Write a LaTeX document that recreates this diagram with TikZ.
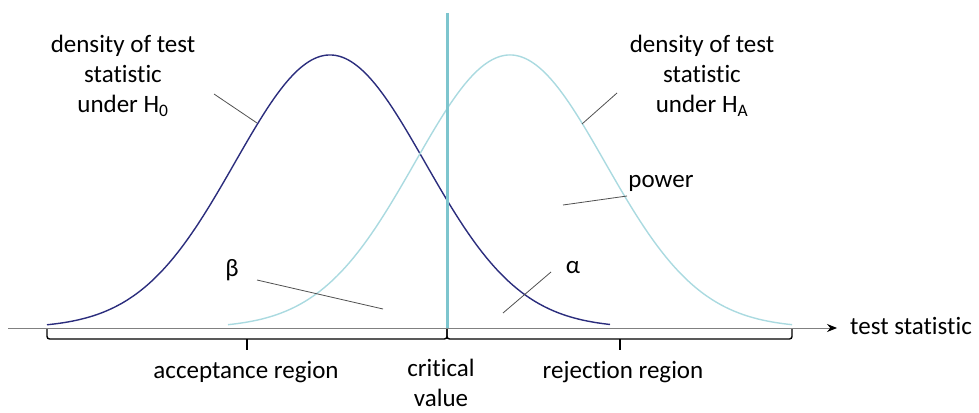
\documentclass[tikz,border=0pt]{standalone}
\usepackage{fontspec}
\setmainfont{Carlito}[Ligatures={NoCommon,NoContextual}]
\usetikzlibrary{arrows.meta}
\definecolor{hnull}{RGB}{43,45,125}
\definecolor{halt}{RGB}{170,218,224}
\definecolor{crit}{RGB}{125,197,206}
\definecolor{ptr}{RGB}{80,80,80}
\definecolor{axisc}{RGB}{128,128,128}
\newcommand\tIlig{t\kern0pt i}
\tikzset{
  lbl/.style={font=\fontsize{25}{30}\selectfont, align=center, inner sep=0pt},
  pointer/.style={draw=ptr, line width=0.8pt},
  bracepath/.style={draw=black, line width=1.4pt, rounded corners=2.5pt},
  curve/.style={line width=1.4pt, smooth, samples=120},
}
\begin{document}
\begin{tikzpicture}[x=1pt,y=-1pt]
\useasboundingbox (0,0) rectangle (979,412);
% axis
\coordinate (axL) at (8,328);
\coordinate (axR) at (837,328);
\draw[axisc, line width=1pt, -{Stealth[black,length=10pt,width=8pt]}] (axL) -- (axR);
\node[lbl, anchor=west] (ts) at (850,326) {test sta\tIlig s\tIlig c};
% curves
\draw[hnull, curve] plot[domain=47:610] (\x,{328-273*exp(-0.5*((\x-330)/95)^2)});
\draw[halt, curve] plot[domain=228:792] (\x,{328-273*exp(-0.5*((\x-510)/95)^2)});
% critical line
\coordinate (cTop) at (447,13);
\coordinate (cBot) at (447,328);
\draw[crit, line width=3pt] (cTop) -- (cBot);
% braces
\draw[bracepath] (47,329) -- (47,339) -- (247,339) -- (447,339) -- (447,329);
\draw[bracepath] (247,339) -- (247,350);
\draw[bracepath] (447,329) -- (447,339) -- (620,339) -- (792,339) -- (792,329);
\draw[bracepath] (620,339) -- (620,350);
% labels
\node[lbl] (acc) at (246,372) {acceptance region};
\node[lbl] (crv) at (441,383) {cri\tIlig cal\\value};
\node[lbl] (rej) at (623,372) {rejec\tIlig on region};
\node[lbl] (h0) at (123,76) {density of test\\sta\tIlig s\tIlig c\\under H\textsubscript{0}};
\node[lbl] (ha) at (702,76) {density of test\\sta\tIlig s\tIlig c\\under H\textsubscript{A}};
\node[lbl] (pow) at (661,183) {power};
\node[lbl] (beta) at (232,270) {β};
\node[lbl] (alpha) at (573,268) {α};
% pointers
\coordinate (p0a) at (214,94);
\coordinate (p0b) at (257,123);
\draw[pointer] (p0a) -- (p0b);
\coordinate (paa) at (617,93);
\coordinate (pab) at (582,124);
\draw[pointer] (paa) -- (pab);
\coordinate (ppa) at (627,196);
\coordinate (ppb) at (563,205);
\draw[pointer] (ppa) -- (ppb);
\coordinate (pba) at (257,280);
\coordinate (pbb) at (383,309);
\draw[pointer] (pba) -- (pbb);
\coordinate (pla) at (551,272);
\coordinate (plb) at (503,313);
\draw[pointer] (pla) -- (plb);
\end{tikzpicture}
\end{document}
